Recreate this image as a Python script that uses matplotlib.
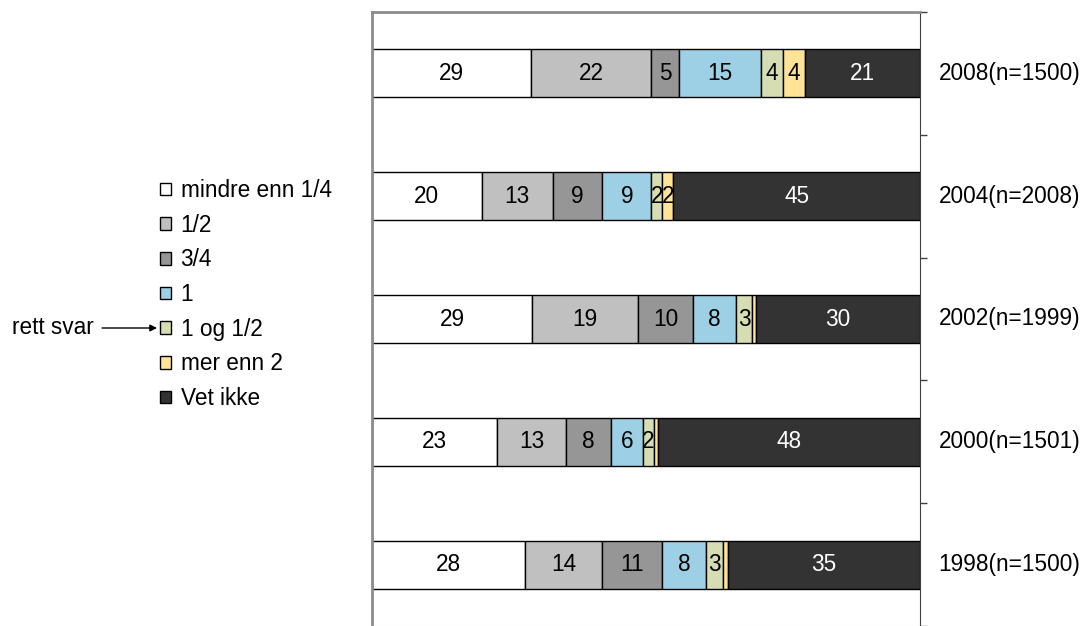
import numpy as np
import matplotlib.pyplot as plt

plt.rcParams['font.family'] = ['Liberation Sans', 'DejaVu Sans']

# data (percent), top row first
years = ["2008(n=1500)", "2004(n=2008)", "2002(n=1999)", "2000(n=1501)", "1998(n=1500)"]
categories = ["mindre enn 1/4", "1/2", "3/4", "1", "1 og 1/2", "mer enn 2", "Vet ikke"]

mindre_enn_kvart = [29, 20, 29.2, 22.8, 27.9]
halv = [22, 13, 19.4, 12.6, 14.1]
tre_kvart = [5, 9, 10, 8.2, 10.9]
en = [15, 9, 7.9, 5.8, 8.1]
en_og_halv = [4, 2, 2.8, 2.1, 3.0]
mer_enn_2 = [4, 2, 0.7, 0.7, 0.9]
vet_ikke = [21, 45, 30, 47.8, 35.1]

series = [mindre_enn_kvart, halv, tre_kvart, en, en_og_halv, mer_enn_2, vet_ikke]
colors = ['white', '#c0c0c0', '#969696', '#9dd0e4', '#d7ddb3', '#ffe497', '#333333']
fs = 16.3

fig = plt.figure(figsize=(10.9, 6.26), dpi=100)
ax = fig.add_axes([372 / 1090, 0.0, 548 / 1090, 1 - 12 / 626])

y = np.arange(len(years))
left = np.zeros(len(years))
bars = []
for vals, col, name in zip(series, colors, categories):
    vals = np.array(vals, dtype=float)
    b = ax.barh(y, vals, left=left, height=0.39, color=col, edgecolor='black',
                linewidth=1, label=name)
    bars.append(b)
    for yi, (l, v) in enumerate(zip(left, vals)):
        if v >= 1.5:
            ax.text(l + v / 2, yi, f"{v:.0f}", ha='center', va='center', fontsize=fs,
                    color='white' if col == '#333333' else 'black')
    left += vals

ax.set_xlim(0, 100)
ax.set_ylim(len(years) - 0.5, -0.5)
ax.set_xticks([])
ax.yaxis.tick_right()
ax.set_yticks(np.arange(-0.5, len(years)))
ax.set_yticklabels([])
ax.tick_params(axis='y', direction='out', length=5, width=1, color='#404040')
ax.spines['left'].set_color('#8c8c8c')
ax.spines['left'].set_linewidth(2)
ax.spines['top'].set_color('#8c8c8c')
ax.spines['top'].set_linewidth(2)
ax.spines['bottom'].set_color('#d0d0d0')
ax.spines['right'].set_color('#404040')

for yi, lab in enumerate(years):
    ax.text(1.034, yi, lab, transform=ax.get_yaxis_transform(), ha='left', va='center',
            fontsize=fs)

fig.legend(bars, categories, loc='upper left', bbox_to_anchor=(160 / 1090, 1 - 179 / 626),
           frameon=False, fontsize=fs, handlelength=0.48, handleheight=0.48,
           handletextpad=0.43, labelspacing=0.515, borderpad=0, borderaxespad=0)

# arrow pointing at the correct answer in the legend
ax.annotate("rett svar", xy=(157, 626 - 328), xytext=(12, 626 - 328),
            xycoords='figure pixels', textcoords='figure pixels', ha='left', va='center',
            fontsize=fs,
            arrowprops=dict(arrowstyle='-|>', color='black', lw=1, shrinkA=4, shrinkB=0,
                            mutation_scale=10))

fig.savefig("out.png", dpi=100)
